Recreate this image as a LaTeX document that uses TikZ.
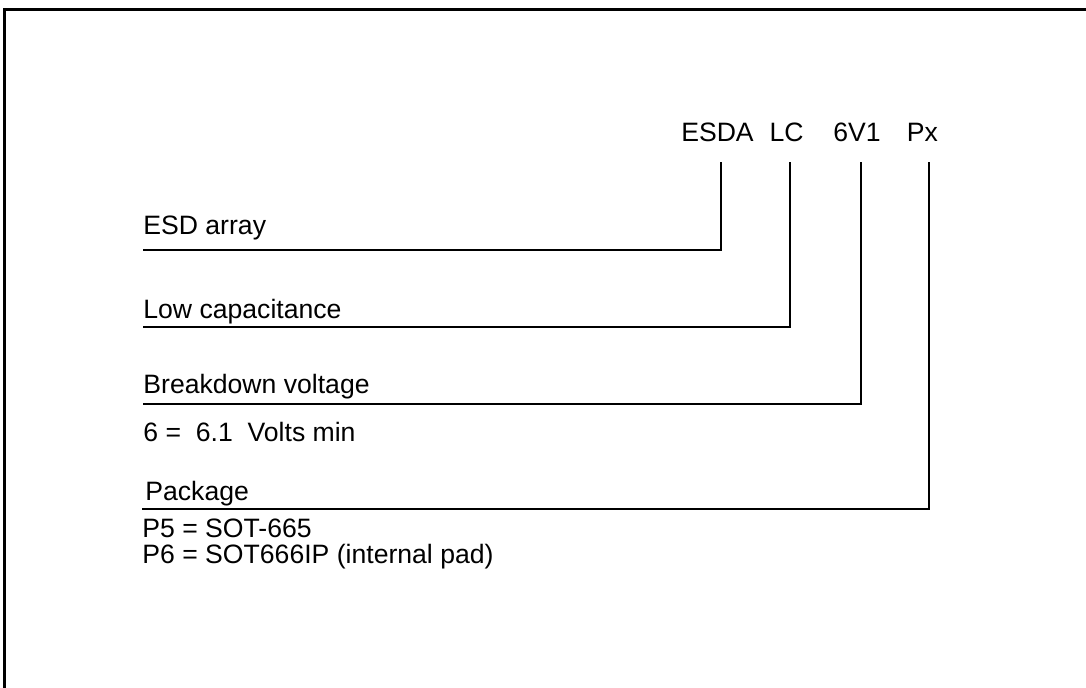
\documentclass[tikz,border=0pt]{standalone}
\usepackage{fontspec}
\setmainfont{Liberation Sans}
\usepackage{tikz}

\begin{document}
\begin{tikzpicture}[x=0.5pt, y=-0.5pt, font=\fontsize{13.3}{15}\selectfont,
  lbl/.style={anchor=base west, inner sep=0pt},
  hdr/.style={anchor=base, inner sep=0pt},
  lead/.style={line width=1.1pt}]
  \useasboundingbox (0,0) rectangle (1086,687);
  \clip (0,0) rectangle (1086,687);
  % frame
  \draw[line width=1.5pt] (4,700) -- (4,9) -- (1100,9);
  % part number
  \node[hdr] (esda) at (717.5,141) {ESDA};
  \node[hdr] (lc) at (786.5,141) {LC};
  \node[hdr] (volt) at (857,141) {6V1};
  \node[hdr] (pkg) at (922.5,141) {Px};
  \coordinate (t1) at (721,162);
  \coordinate (t2) at (790,162);
  \coordinate (t3) at (861,162);
  \coordinate (t4) at (929,162);
  % field labels
  \node[lbl] (esd) at (143,234) {ESD array};
  \node[lbl] (lowc) at (143,318) {Low capacitance};
  \node[lbl] (brk) at (143,393) {Breakdown voltage};
  \node[lbl] (brk1) at (143,441) {6 =\ \ 6.1\ \ Volts min};
  \node[lbl] (pack) at (145,500) {Package};
  \node[lbl] (pack1) at (142,537) {P5 = SOT-665};
  \node[lbl] (pack2) at (142,563) {P6 = SOT666IP (internal pad)};
  \coordinate (l1) at (143,250);
  \coordinate (l2) at (143,327);
  \coordinate (l3) at (143,404);
  \coordinate (l4) at (142,509);
  % leaders
  \draw[lead] (l1) -| (t1);
  \draw[lead] (l2) -| (t2);
  \draw[lead] (l3) -| (t3);
  \draw[lead] (l4) -| (t4);
\end{tikzpicture}
\end{document}
